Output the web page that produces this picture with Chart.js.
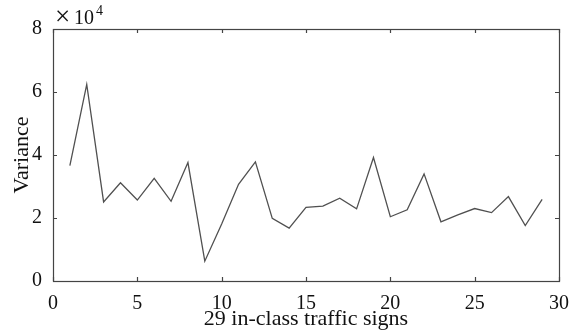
<!DOCTYPE html>
<html>
<head>
<meta charset="utf-8">
<script src="https://cdn.jsdelivr.net/npm/chart.js@4/dist/chart.umd.min.js"></script>
<style>
  html, body { margin: 0; padding: 0; background: #fff; }
  #wrap { width: 583px; height: 332px; }
</style>
</head>
<body>
<div id="wrap"><canvas id="chart"></canvas></div>
<script>
// sign index 1..29 and its variance
const signs = [1,2,3,4,5,6,7,8,9,10,11,12,13,14,15,16,17,18,19,20,21,22,23,24,25,26,27,28,29];
const variance = [36600, 62400, 25100, 31200, 25700, 32600, 25300, 37600, 6300, 18100,
                  30700, 37800, 19900, 16800, 23400, 23800, 26300, 22900, 39200, 20400,
                  22600, 34000, 18800, 21000, 23000, 21700, 26800, 17600, 25900];
const xTicks = [0, 5, 10, 15, 20, 25, 30];
const yTicks = [0, 20000, 40000, 60000, 80000];

const family = '"Liberation Serif", "Times New Roman", serif';
const tickFont = { family, size: 20 };
const titleFont = { family, size: 22 };
const axisColor = '#444';

// MATLAB style box with inward tick marks, plus the x10^4 note
const boxPlugin = {
  id: 'box',
  afterDraw(chart) {
    const { ctx, chartArea: a, scales } = chart;
    ctx.save();
    ctx.strokeStyle = axisColor;
    ctx.lineWidth = 1.2;
    ctx.strokeRect(a.left + 0.5, a.top + 0.5, a.right - a.left, a.bottom - a.top);
    const len = 4;
    ctx.beginPath();
    xTicks.forEach(t => {
      const x = Math.round(scales.x.getPixelForValue(t)) + 0.5;
      ctx.moveTo(x, a.bottom); ctx.lineTo(x, a.bottom - len);
      ctx.moveTo(x, a.top); ctx.lineTo(x, a.top + len);
    });
    yTicks.forEach(t => {
      const y = Math.round(scales.y.getPixelForValue(t)) + 0.5;
      ctx.moveTo(a.left, y); ctx.lineTo(a.left + len, y);
      ctx.moveTo(a.right, y); ctx.lineTo(a.right - len, y);
    });
    ctx.stroke();
    ctx.fillStyle = '#111';
    ctx.textBaseline = 'alphabetic';
    ctx.font = '27px ' + family;
    ctx.fillText('\u00d7', a.left + 2, a.top - 4);
    ctx.font = '20px ' + family;
    ctx.fillText('10', a.left + 21, a.top - 5);
    ctx.font = '14px ' + family;
    ctx.fillText('4', a.left + 43, a.top - 14);
    ctx.restore();
  }
};

new Chart(document.getElementById('chart'), {
  type: 'line',
  data: {
    datasets: [{
      label: 'Variance',
      data: signs.map((s, i) => ({ x: s, y: variance[i] })),
      borderColor: '#505050',
      borderWidth: 1.3,
      pointRadius: 0,
      tension: 0,
      fill: false
    }]
  },
  options: {
    responsive: true,
    maintainAspectRatio: false,
    animation: false,
    layout: { padding: { top: 29, right: 24, left: 0, bottom: 0 } },
    plugins: { legend: { display: false }, tooltip: { enabled: false } },
    scales: {
      x: {
        type: 'linear', min: 0, max: 30,
        afterBuildTicks: s => { s.ticks = xTicks.map(v => ({ value: v })); },
        afterFit: s => { s.height = 51; },
        grid: { display: false },
        border: { display: false },
        ticks: { font: tickFont, color: '#111', padding: 3, maxRotation: 0 },
        title: { display: true, text: '29 in-class traffic signs', font: titleFont, color: '#111', padding: { top: -11, bottom: 0 } }
      },
      y: {
        min: 0, max: 80000,
        afterBuildTicks: s => { s.ticks = yTicks.map(v => ({ value: v })); },
        afterFit: s => { s.width = 53; },
        grid: { display: false },
        border: { display: false },
        ticks: { font: tickFont, color: '#111', padding: 3, callback: v => v / 10000 },
        title: { display: true, text: 'Variance', font: titleFont, color: '#111', padding: { top: 9, bottom: 0 } }
      }
    }
  },
  plugins: [boxPlugin]
});
</script>
</body>
</html>
